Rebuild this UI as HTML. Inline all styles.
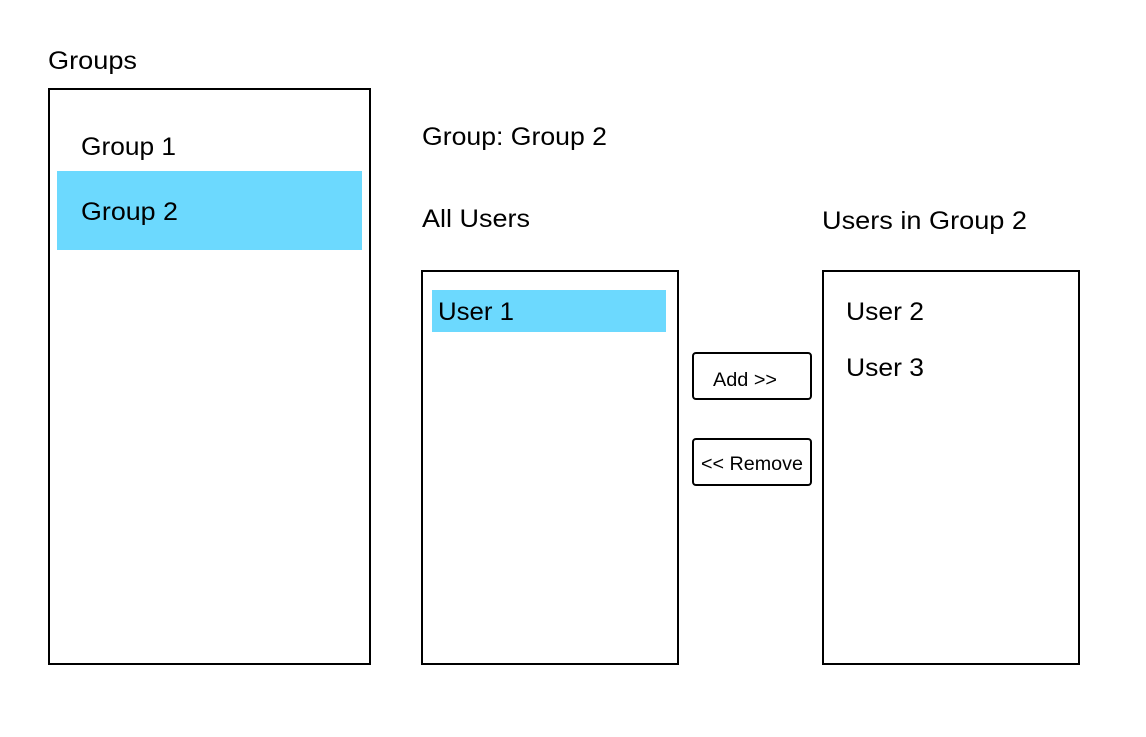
<!DOCTYPE html>
<html><head><meta charset="utf-8"><style>html,body{margin:0;padding:0;background:#fff}</style></head>
<body>
<svg width="1146" height="732" xmlns="http://www.w3.org/2000/svg" font-family="Liberation Sans, sans-serif" fill="#000">
<rect width="1146" height="732" fill="#fff"/>
<text x="48" y="69" font-size="25" textLength="89" lengthAdjust="spacingAndGlyphs">Groups</text>
<rect x="49" y="89" width="321" height="575" fill="none" stroke="#000" stroke-width="2"/>
<rect x="57" y="171" width="305" height="79" fill="#6cd9fe"/>
<text x="81" y="155" font-size="25" textLength="95" lengthAdjust="spacingAndGlyphs">Group 1</text>
<text x="81" y="220" font-size="25" textLength="97" lengthAdjust="spacingAndGlyphs">Group 2</text>
<text x="422" y="145" font-size="25" textLength="185" lengthAdjust="spacingAndGlyphs">Group: Group 2</text>
<text x="422" y="227" font-size="25" textLength="108" lengthAdjust="spacingAndGlyphs">All Users</text>
<text x="822" y="229" font-size="25" textLength="205" lengthAdjust="spacingAndGlyphs">Users in Group 2</text>
<rect x="422" y="271" width="256" height="393" fill="none" stroke="#000" stroke-width="2"/>
<rect x="432" y="290" width="234" height="42" fill="#6cd9fe"/>
<text x="438" y="320" font-size="25" textLength="76" lengthAdjust="spacingAndGlyphs">User 1</text>
<rect x="823" y="271" width="256" height="393" fill="none" stroke="#000" stroke-width="2"/>
<text x="846" y="320" font-size="25" textLength="78" lengthAdjust="spacingAndGlyphs">User 2</text>
<text x="846" y="376" font-size="25" textLength="78" lengthAdjust="spacingAndGlyphs">User 3</text>
<rect x="693" y="353" width="118" height="46" rx="3" fill="none" stroke="#000" stroke-width="2"/>
<text x="713" y="386" font-size="19" textLength="64" lengthAdjust="spacingAndGlyphs">Add &gt;&gt;</text>
<rect x="693" y="439" width="118" height="46" rx="3" fill="none" stroke="#000" stroke-width="2"/>
<text x="701" y="470" font-size="19" textLength="102" lengthAdjust="spacingAndGlyphs">&lt;&lt; Remove</text>
</svg>
</body></html>
